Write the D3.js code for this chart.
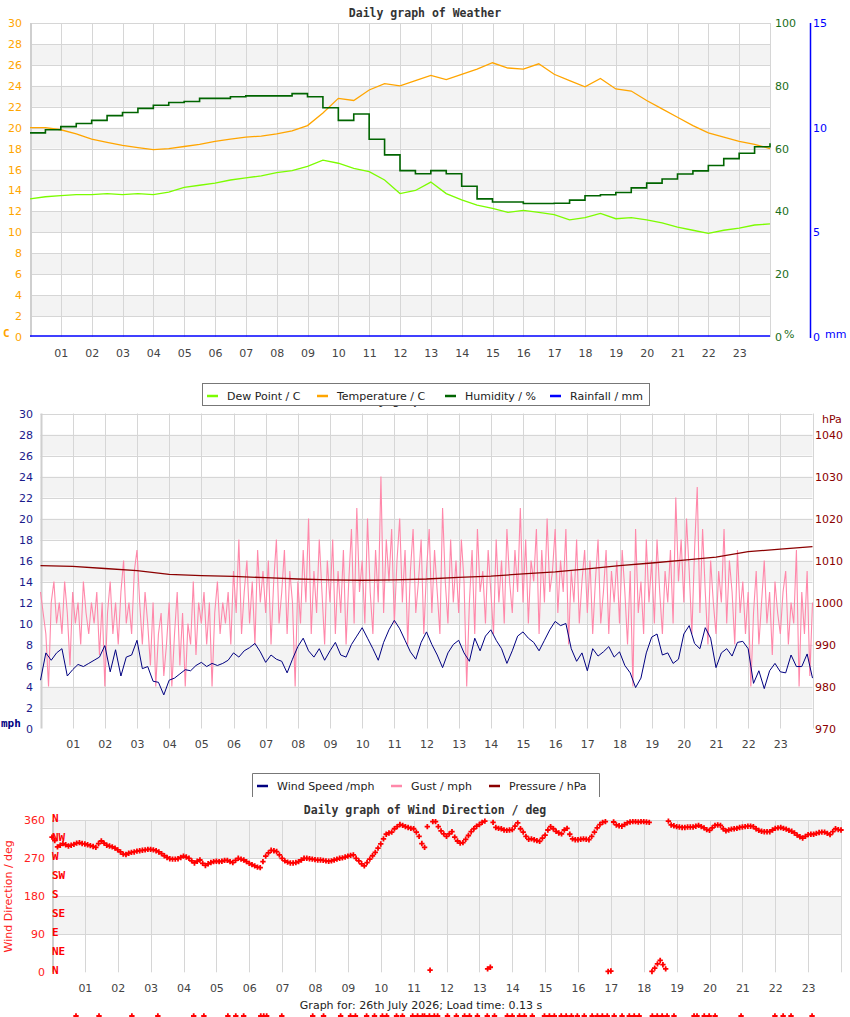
<!DOCTYPE html>
<html>
<head>
<meta charset="utf-8">
<script src="https://cdn.jsdelivr.net/npm/d3@7"></script>
<style>
  body { margin: 0; background: #fff; }
  svg { display: block; font-family: "DejaVu Sans", sans-serif; }
  .mono { font-family: "DejaVu Sans Mono", monospace; font-weight: bold; }
</style>
</head>
<body>
<svg id="chart" width="850" height="1017"></svg>
<script>
// ---- data ----
const hourTicks = [1, 2, 3, 4, 5, 6, 7, 8, 9, 10, 11, 12, 13, 14, 15, 16, 17, 18, 19, 20, 21, 22, 23];

// weather panel, one value every 30 minutes from 00:00 to 24:00
const temperature = [20.0, 20.0, 19.8, 19.4, 18.9, 18.6, 18.3, 18.1, 17.9, 18.0, 18.2, 18.4, 18.7, 18.9, 19.1, 19.2,
  19.4, 19.7, 20.2, 21.4, 22.8, 22.6, 23.6, 24.2, 24.0, 24.5, 25.0, 24.6, 25.1, 25.6, 26.2, 25.7,
  25.6, 26.1, 25.1, 24.5, 23.9, 24.7, 23.7, 23.5, 22.6, 21.8, 21.0, 20.2, 19.5, 19.1, 18.7, 18.4, 18.0];
const dewPoint = [13.2, 13.4, 13.5, 13.6, 13.6, 13.7, 13.6, 13.7, 13.6, 13.85, 14.3, 14.5, 14.7, 15.0, 15.2, 15.4,
  15.7, 15.9, 16.3, 16.9, 16.6, 16.1, 15.8, 15.0, 13.7, 14.0, 14.8, 13.7, 13.1, 12.6, 12.3, 11.9,
  12.1, 11.9, 11.7, 11.2, 11.4, 11.8, 11.3, 11.4, 11.2, 10.9, 10.5, 10.2, 9.9, 10.2, 10.4, 10.7, 10.8];
const humidity = [65, 66, 67, 68, 69, 70.5, 71.5, 72.8, 73.8, 74.7, 75, 76, 76, 76.5, 76.8, 76.8,
  76.8, 77.5, 76.5, 73, 69, 71, 63, 58, 53, 52, 53, 52, 48, 44, 43, 43,
  42.5, 42.5, 42.6, 43.6, 45, 45.3, 46, 47.5, 49, 50.3, 51.9, 52.9, 54.6, 56.8, 58.5, 60.6, 61.7];
const rainfall = [0, 0, 0, 0, 0, 0, 0, 0, 0, 0, 0, 0, 0, 0, 0, 0, 0, 0, 0, 0, 0, 0, 0, 0, 0];   // hourly

// wind panel: speed every 10 minutes
const windSpeed = [4.6, 7.2, 6.5, 7.2, 7.6, 5.0, 5.6, 6.1, 5.9, 6.2, 6.5, 6.8,
  7.9, 5.4, 7.5, 5.0, 6.8, 7.0, 8.4, 5.7, 5.9, 4.5, 4.4, 3.2,
  4.6, 4.8, 5.2, 5.6, 5.5, 6.0, 6.3, 5.9, 6.2, 6.0, 6.2, 6.5,
  7.2, 6.8, 7.4, 7.7, 8.1, 7.3, 6.3, 7.0, 6.6, 6.4, 5.3, 6.6,
  7.8, 8.6, 7.4, 6.8, 7.6, 6.5, 7.4, 8.2, 7.0, 6.8, 8.0, 8.8,
  9.6, 8.6, 7.6, 6.5, 8.2, 9.4, 10.3, 9.5, 8.4, 7.3, 6.6, 8.2,
  9.2, 8.0, 7.0, 5.8, 7.2, 8.0, 8.4, 7.2, 6.4, 8.6, 7.4, 8.8,
  9.4, 8.4, 7.6, 6.2, 7.4, 8.8, 9.2, 8.6, 8.2, 7.4, 8.4, 9.4,
  10.2, 9.8, 10.0, 7.6, 6.4, 7.2, 5.5, 7.6, 6.9, 7.3, 7.8, 6.8,
  7.3, 6.0, 5.3, 3.9, 4.8, 7.2, 8.7, 9.0, 7.0, 7.2, 6.2, 6.6,
  9.0, 9.8, 8.1, 7.6, 9.6, 8.6, 5.8, 7.2, 7.6, 6.9, 8.2, 8.3,
  7.6, 4.3, 5.5, 3.8, 5.5, 6.2, 5.4, 5.3, 7.0, 5.9, 5.9, 7.1, 4.8];

// gusts every 5 minutes
const gust = [13, 11, 9, 4, 12, 14, 10, 12, 9, 14, 11, 6,
  13, 10, 12, 8, 14, 11, 9, 12, 10, 13, 7, 12,
  4, 11, 14, 9, 12, 8, 13, 16, 10, 12, 9, 15,
  17, 12, 8, 13, 10, 6, 12, 4, 9, 11, 5, 8,
  12, 4, 9, 13, 6, 11, 4, 10, 8, 14, 7, 12,
  10, 13, 8, 12, 4, 11, 14, 9, 12, 10, 13, 8,
  15, 11, 18, 9, 13, 16, 10, 14, 8, 17, 12, 15,
  11, 16, 8, 14, 18, 10, 13, 17, 9, 15, 12, 4,
  14, 10, 17, 12, 20, 9, 15, 11, 18, 13, 8, 16,
  12, 18, 9, 15, 11, 17, 8, 14, 19, 10, 21, 13,
  16, 10, 20, 13, 9, 17, 12, 24, 11, 18, 14, 19,
  10, 16, 20, 12, 17, 8, 15, 19, 11, 14, 18, 9,
  15, 19, 11, 17, 13, 9, 21, 14, 10, 18, 12, 16,
  11, 18, 14, 4, 12, 17, 9, 19, 13, 15, 10, 17,
  13, 9, 18, 12, 16, 10, 19, 14, 11, 17, 13, 21,
  12, 18, 10, 16, 14, 19, 9, 17, 12, 20, 13, 15,
  19, 11, 16, 13, 19, 8, 15, 12, 18, 10, 14, 17,
  11, 16, 9, 14, 18, 10, 13, 17, 9, 15, 12, 16,
  10, 17, 13, 8, 15, 4, 19, 11, 14, 9, 18, 12,
  16, 10, 18, 13, 9, 15, 12, 17, 10, 22, 14, 18,
  12, 20, 15, 9, 17, 23, 11, 19, 13, 8, 16, 12,
  9, 15, 12, 19, 10, 16, 13, 8, 17, 11, 14, 9,
  13, 4, 11, 15, 8, 12, 16, 10, 13, 7, 14, 11,
  9, 13, 15, 8, 12, 10, 17, 4, 13, 9, 15, 5, 12];

// pressure, hourly
const pressure = [1008.8, 1008.6, 1008.1, 1007.6, 1006.7, 1006.4, 1006.2, 1005.9, 1005.6, 1005.4, 1005.3, 1005.4,
  1005.6, 1006.0, 1006.3, 1006.8, 1007.3, 1008.0, 1008.8, 1009.4, 1010.1, 1010.8, 1012.1, 1012.7, 1013.3];

// wind direction every 5 minutes (degrees)
const windDir = [320, 312, 297, 301, 305, 302, 299, 301, 303, 306, 307, 305,
  304, 302, 300, 298, 296, 305, 311, 306, 301, 299, 297, 294,
  290, 285, 280, 279, 282, 284, 285, 287, 288, 289, 290, 291,
  291, 290, 288, 285, 281, 276, 272, 269, 268, 268, 269, 272,
  275, 273, 270, 264, 259, 263, 266, 258, 253, 257, 260, 262,
  263, 262, 263, 265, 265, 262, 260, 265, 270, 268, 266, 262,
  258, 255, 252, 249, 248, 262, 275, 283, 289, 288, 286, 278,
  270, 264, 261, 259, 259, 260, 262, 266, 270, 270, 269, 268,
  267, 266, 266, 265, 264, 263, 264, 266, 268, 270, 271, 273,
  275, 277, 278, 270, 264, 257, 252, 260, 268, 276, 284, 294,
  304, 316, 327, 330, 332, 340, 345, 350, 348, 345, 343, 341,
  340, 332, 322, 305, 296, 345, 5, 357, 357, 345, 335, 328,
  322, 328, 333, 320, 311, 306, 307, 315, 324, 333, 340, 346,
  350, 355, 358, 8, 12, 355, 343, 341, 340, 337, 336, 337,
  338, 346, 354, 340, 332, 322, 315, 316, 314, 312, 310, 318,
  325, 337, 345, 340, 334, 330, 328, 337, 341, 327, 316, 314,
  314, 315, 316, 315, 314, 322, 332, 342, 350, 355, 357, 2,
  3, 356, 349, 347, 346, 350, 354, 356, 357, 357, 356, 357,
  357, 356, 355, 2, 10, 20, 28, 18, 8, 358, 349, 347,
  345, 344, 343, 343, 344, 344, 344, 346, 348, 345, 342, 338,
  336, 342, 348, 349, 348, 340, 335, 337, 339, 340, 341, 343,
  344, 345, 346, 346, 345, 340, 336, 334, 333, 333, 333, 337,
  341, 342, 343, 341, 339, 336, 334, 330, 325, 321, 318, 322,
  326, 327, 327, 329, 331, 332, 332, 329, 326, 333, 340, 338, 337];
const compass = ['N', 'NE', 'E', 'SE', 'S', 'SW', 'W', 'NW', 'N'];

// stray markers at the bottom edge (hour of day)
const bottomMarks = [0.73, 1.43, 2.43, 3.22, 4.31, 4.62, 5.35, 5.59, 5.83, 6.35, 6.44, 6.53, 6.99, 7.93, 8.26,
  8.78, 9.08, 9.23, 9.57, 9.81, 10.05, 10.18, 10.48, 10.66, 10.97, 11.12, 11.27, 11.33, 11.48, 11.63, 11.73,
  12.03, 12.3, 12.55, 12.7, 12.94, 13.24, 13.46, 13.85, 14.0, 14.22, 14.37, 14.61, 14.98, 15.13, 15.28,
  15.49, 15.64, 15.8, 15.98, 16.19, 16.43, 16.59, 16.74, 16.89, 17.1, 17.34, 17.56, 17.71, 17.86, 18.26,
  18.41, 18.56, 18.71, 18.92, 19.53, 19.62, 19.84, 19.99, 20.17, 20.96, 21.99, 22.24, 22.48, 23.12];

// ---- drawing ----
const svg = d3.select('#chart');
const GRID = '#d6d6d6', BAND = '#f3f3f3', LABEL = '#444';
const fmtHour = d3.format('02d');

function panel(x, y, bandLows, bandSize, gridVals) {
  const [x0, x1] = x.range();
  const [yb, yt] = y.range();
  const g = svg.append('g');
  g.selectAll('rect.band').data(bandLows).join('rect')
    .attr('class', 'band')
    .attr('x', x0).attr('width', x1 - x0)
    .attr('y', d => y(d + bandSize)).attr('height', d => y(d) - y(d + bandSize))
    .attr('fill', BAND);
  g.selectAll('line.hg').data(gridVals).join('line')
    .attr('class', 'hg')
    .attr('x1', x0).attr('x2', x1)
    .attr('y1', d => Math.round(y(d)) + 0.5).attr('y2', d => Math.round(y(d)) + 0.5)
    .attr('stroke', GRID);
  g.selectAll('line.vg').data(hourTicks.concat([24])).join('line')
    .attr('class', 'vg')
    .attr('x1', d => Math.round(x(d)) + 0.5).attr('x2', d => Math.round(x(d)) + 0.5)
    .attr('y1', yt).attr('y2', yb)
    .attr('stroke', GRID);
  g.append('line')
    .attr('x1', x0 + 1).attr('x2', x0 + 1).attr('y1', yt).attr('y2', yb)
    .attr('stroke', '#cfcfcf').attr('stroke-width', 2);
  // hour labels
  g.append('g')
    .attr('transform', `translate(0,${yb})`)
    .call(d3.axisBottom(x).tickValues(hourTicks).tickFormat(fmtHour).tickSize(0).tickPadding(12))
    .call(a => a.select('.domain').remove())
    .selectAll('text')
    .attr('fill', LABEL).style('font-size', '11px').style('font-family', '"DejaVu Sans", sans-serif');
  return g;
}

function sideAxis(axis, xPos, color, anchor) {
  const a = svg.append('g')
    .attr('transform', `translate(${xPos},0)`)
    .call(axis.tickSize(0).tickPadding(0));
  a.select('.domain').remove();
  a.selectAll('text')
    .attr('fill', color)
    .attr('text-anchor', anchor)
    .style('font-size', '11px')
    .style('font-family', '"DejaVu Sans", sans-serif');
  return a;
}

function title(text, x, y) {
  svg.append('text').attr('class', 'mono')
    .attr('x', x).attr('y', y).attr('text-anchor', 'middle')
    .attr('fill', '#333').style('font-size', '11.5px')
    .text(text);
}

function legend(x, y, w, items, openBottom) {
  const g = svg.append('g').attr('transform', `translate(${x},${y})`);
  g.append('rect').attr('width', w).attr('height', 23).attr('fill', '#fff');
  if (openBottom) {
    g.append('path').attr('d', `M0.5,24V0.5H${w - 0.5}V24`).attr('fill', 'none').attr('stroke', '#777');
  } else {
    g.append('rect').attr('x', 0.5).attr('y', 0.5).attr('width', w - 1).attr('height', 22)
      .attr('fill', 'none').attr('stroke', '#777');
  }
  items.forEach(it => {
    g.append('line').attr('x1', it.at + 5).attr('x2', it.at + 16).attr('y1', 13).attr('y2', 13)
      .attr('stroke', it.color).attr('stroke-width', 2.5);
    g.append('text').attr('x', it.at + 25).attr('y', 17)
      .attr('fill', '#222').style('font-size', '11px').text(it.label);
  });
}

// ===== Panel 1: weather =====
const x1 = d3.scaleLinear().domain([0, 24]).range([30, 770]);
const yT = d3.scaleLinear().domain([0, 30]).range([337, 23]);
const yH = d3.scaleLinear().domain([0, 100]).range([337, 23]);
const yR = d3.scaleLinear().domain([0, 15]).range([337, 23]);

title('Daily graph of Weather', 425, 17);
panel(x1, yT, [2, 6, 10, 14, 18, 22, 26], 2, d3.range(2, 31, 2));

const halfHour = (d, i) => x1(i / 2);
svg.append('path').datum(dewPoint)
  .attr('d', d3.line().x(halfHour).y(d => yT(d)))
  .attr('fill', 'none').attr('stroke', '#7cfc00').attr('stroke-width', 1.3);
svg.append('path').datum(temperature)
  .attr('d', d3.line().x(halfHour).y(d => yT(d)))
  .attr('fill', 'none').attr('stroke', '#ffa500').attr('stroke-width', 1.3);
svg.append('path').datum(humidity)
  .attr('d', d3.line().curve(d3.curveStepAfter).x(halfHour).y(d => yH(d)))
  .attr('fill', 'none').attr('stroke', '#006400').attr('stroke-width', 1.6);
svg.append('path').datum(rainfall)
  .attr('d', d3.line().x((d, i) => x1(i)).y(d => yR(d) - 1))
  .attr('fill', 'none').attr('stroke', '#0000ff').attr('stroke-width', 1.5);

sideAxis(d3.axisLeft(yT).tickValues(d3.range(0, 31, 2)), 22, '#ffa500', 'end');
sideAxis(d3.axisRight(yH).tickValues([0, 20, 40, 60, 80, 100]), 775, '#1a6e1a', 'start');
svg.append('line').attr('x1', 810.5).attr('x2', 810.5).attr('y1', 23).attr('y2', 338)
  .attr('stroke', '#0000ff').attr('stroke-width', 1.5);
sideAxis(d3.axisRight(yR).tickValues([0, 5, 10, 15]), 813, '#0000ff', 'start');
svg.append('text').attr('class', 'mono').attr('x', 3).attr('y', 337).attr('fill', '#ffa500').style('font-size', '11px').text('C');
svg.append('text').attr('x', 784).attr('y', 338).attr('fill', '#1a6e1a').style('font-size', '11px').text('%');
svg.append('text').attr('x', 825).attr('y', 338).attr('fill', '#0000ff').style('font-size', '11px').text('mm');

// ===== Panel 2: wind speed =====
const x2 = d3.scaleLinear().domain([0, 24]).range([40.5, 812.5]);
const yW = d3.scaleLinear().domain([0, 30]).range([728.5, 413.5]);
const yP = d3.scaleLinear().domain([970, 1045]).range([728.5, 413.5]);

// title of the wind panel sits behind the legend; only its descenders show
svg.append('clipPath').attr('id', 'underLegend')
  .append('rect').attr('x', 0).attr('y', 406).attr('width', 850).attr('height', 8);
svg.append('text').attr('class', 'mono').attr('x', 351).attr('y', 404)
  .attr('clip-path', 'url(#underLegend)')
  .attr('fill', '#333').style('font-size', '11.5px').text('Daily graph of Wind');
panel(x2, yW, [2, 6, 10, 14, 18, 22, 26], 2, d3.range(2, 31, 2));

svg.append('path').datum(gust)
  .attr('d', d3.line().x((d, i) => x2(i / 12)).y(d => yW(d)))
  .attr('fill', 'none').attr('stroke', '#ff88aa').attr('stroke-width', 1.1);
svg.append('path').datum(windSpeed)
  .attr('d', d3.line().x((d, i) => x2(i / 6)).y(d => yW(d)))
  .attr('fill', 'none').attr('stroke', '#000080').attr('stroke-width', 1);
svg.append('path').datum(pressure)
  .attr('d', d3.line().x((d, i) => x2(i)).y(d => yP(d)))
  .attr('fill', 'none').attr('stroke', '#8b0000').attr('stroke-width', 1.3);

sideAxis(d3.axisLeft(yW).tickValues(d3.range(0, 31, 2)), 33, '#1a1a8c', 'end');
sideAxis(d3.axisRight(yP).tickValues([970, 980, 990, 1000, 1010, 1020, 1030, 1040]).tickFormat(d3.format('d')),
  815, '#8b0000', 'start');
svg.append('text').attr('x', 822).attr('y', 423).attr('fill', '#8b0000').style('font-size', '11px').text('hPa');
svg.append('text').attr('class', 'mono').attr('x', 1).attr('y', 727).attr('fill', '#000080').style('font-size', '11px').text('mph');

legend(202, 383, 448, [
  { at: 0, label: 'Dew Point / C', color: '#7cfc00' },
  { at: 110, label: 'Temperature / C', color: '#ffa500' },
  { at: 238, label: 'Humidity / %', color: '#006400' },
  { at: 343, label: 'Rainfall / mm', color: '#0000ff' }
], false);

// ===== Panel 3: wind direction =====
const x3 = d3.scaleLinear().domain([0, 24]).range([52, 841]);
const yD = d3.scaleLinear().domain([0, 360]).range([972.3, 820.3]);

svg.append('rect').attr('x', 0).attr('y', 797).attr('width', 850).attr('height', 220).attr('fill', '#fff');
legend(252, 773, 348, [
  { at: 0, label: 'Wind Speed /mph', color: '#000080' },
  { at: 134, label: 'Gust / mph', color: '#ff88aa' },
  { at: 232, label: 'Pressure / hPa', color: '#8b0000' }
], true);

title('Daily graph of Wind Direction / deg', 425, 814);
panel(x3, yD, [90, 270], 90, [90, 180, 270, 360]);

const plus = d3.symbol().type(d3.symbolCross).size(16);
svg.append('g').selectAll('path').data(windDir).join('path')
  .attr('transform', (d, i) => `translate(${x3(i / 12)},${yD(d)})`)
  .attr('d', plus).attr('fill', '#ff0000');

sideAxis(d3.axisLeft(yD).tickValues([0, 90, 180, 270, 360]), 45, '#ff2020', 'end');
svg.append('g').selectAll('text').data(compass).join('text')
  .attr('class', 'mono')
  .attr('x', 52).attr('y', (d, i) => yD(i * 45) + 2)
  .attr('fill', '#ff0000').style('font-size', '11px').text(d => d);
svg.append('text')
  .attr('transform', `translate(12,${yD(180)}) rotate(-90)`)
  .attr('text-anchor', 'middle').attr('fill', '#ff2020').style('font-size', '11px')
  .text('Wind Direction / deg');

svg.append('text').attr('x', 421).attr('y', 1009).attr('text-anchor', 'middle')
  .attr('fill', '#222').style('font-size', '11px').text('Graph for: 26th July 2026; Load time: 0.13 s');

svg.append('g').selectAll('path').data(bottomMarks).join('path')
  .attr('transform', d => `translate(${x3(d)},1016)`)
  .attr('d', plus).attr('fill', '#ff0000');
</script>
</body>
</html>
